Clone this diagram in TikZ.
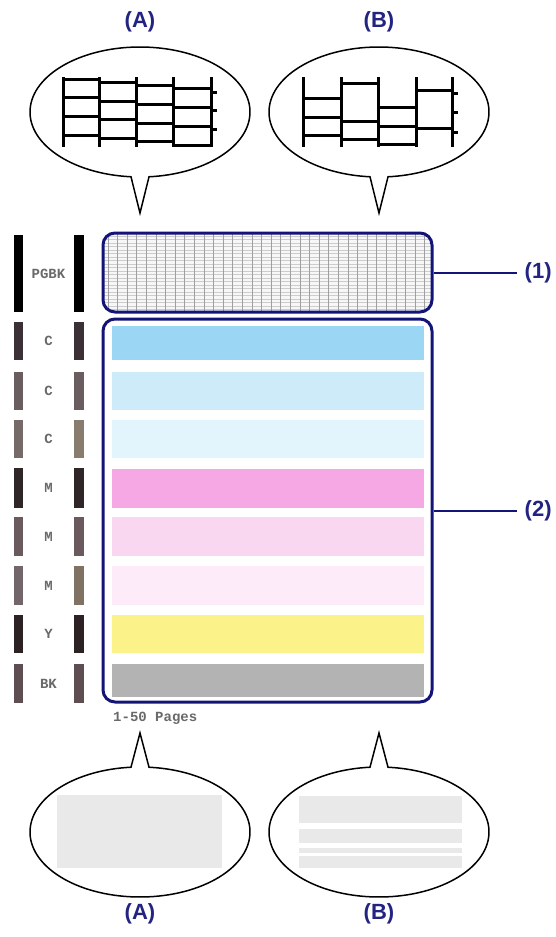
\documentclass[tikz,border=0pt]{standalone}
\usepackage{fontspec}
\setmainfont{Liberation Sans}
\newfontfamily\inkfont{Liberation Mono}
\usetikzlibrary{shapes.geometric,calc,positioning}
\definecolor{navy}{RGB}{20,20,120}
\definecolor{labelblue}{RGB}{35,35,130}
\definecolor{inkgray}{RGB}{105,105,105}
% band colours
\definecolor{cyanA}{RGB}{155,214,244}
\definecolor{cyanB}{RGB}{205,235,249}
\definecolor{cyanC}{RGB}{226,244,252}
\definecolor{magA}{RGB}{246,168,228}
\definecolor{magB}{RGB}{250,215,241}
\definecolor{magC}{RGB}{253,235,249}
\definecolor{yelA}{RGB}{251,242,138}
\definecolor{grayA}{RGB}{179,179,179}
% nozzle bar colours
\definecolor{barA}{RGB}{59,48,53}
\definecolor{barB}{RGB}{106,93,96}
\definecolor{barC}{RGB}{117,106,104}
\definecolor{barCr}{RGB}{135,124,110}
\definecolor{barD}{RGB}{47,38,40}
\definecolor{barE}{RGB}{106,90,94}
\definecolor{barF}{RGB}{114,102,106}
\definecolor{barFr}{RGB}{128,114,98}
\definecolor{barG}{RGB}{44,34,36}
\definecolor{barH}{RGB}{94,78,82}
\tikzstyle{letter} = [font=\fontsize{22}{22}\selectfont\bfseries, text=labelblue, inner sep=2pt]
\tikzstyle{inklabel} = [font=\inkfont\bfseries\fontsize{14}{14}\selectfont, text=inkgray, inner sep=1pt]
\tikzstyle{bubble} = [draw=black, line width=1.5pt, fill=white, line join=miter]
\tikzstyle{stroke} = [black, line width=3pt]
\tikzstyle{patternbox} = [rectangle, rounded corners=12pt, draw=navy, line width=3pt, minimum width=329pt, inner sep=0pt]
\tikzstyle{connector} = [navy, line width=2pt, shorten >=6pt]

\begin{document}
\begin{tikzpicture}[x=1pt,y=-1pt]
\useasboundingbox (0,0) rectangle (556,937);

% check grid of the PGBK pattern
\begin{scope}
\clip[rounded corners=12pt] (103,233) rectangle (432,312);
\fill[gray!6] (103,233) rectangle (432,312);
\foreach \y in {236,239.5,...,310} \draw[gray!40, line width=0.6pt] (103,\y) -- (432,\y);
\foreach \x in {108,117.6,...,430} \draw[gray!75, line width=0.8pt] (\x,233) -- (\x,312);
\end{scope}

% colour bands
\foreach \top/\bot/\col in {326/360/cyanA, 372/410/cyanB, 420/458/cyanC, 469/508/magA,
  517/556/magB, 566/605/magC, 615/653/yelA, 664/697/grayA}
  \fill[fill=\col] (112,\top) rectangle (424,\bot);

\node (box1) [patternbox, minimum height=79pt] at (267.5,272.5) {};
\node (box2) [patternbox, minimum height=383pt] at (267.5,510.5) {};

% nozzle bars and ink names
\foreach \top/\bot/\lcol/\rcol/\txt [count=\i] in {235/312/black/black/PGBK,
  322/360/barA/barA/C, 372/410/barB/barB/C, 420/458/barC/barCr/C,
  468/508/barD/barD/M, 517/556/barE/barE/M, 566/605/barF/barFr/M,
  615/653/barG/barG/Y, 664/703/barH/barH/BK}
{
  \fill[fill=\lcol] (14,\top) rectangle (23,\bot);
  \fill[fill=\rcol] (74,\top) rectangle (84,\bot);
  \node (ink\i) [inklabel] at (48.5,{(\top+\bot)/2}) {\txt};
}
\node (pages) [inklabel, anchor=west] at (112,718) {1-50 Pages};

% labels (1) and (2)
\node (lbl1) [letter, right=89pt of box1] {(1)};
\node (lbl2) [letter, right=89pt of box2] {(2)};
\draw [connector] (box1.east) -- (lbl1.west);
\draw [connector] (box2.east) -- (lbl2.west);

% top bubbles
\draw [bubble] (140,112) ++(94.7:110 and 65) arc[start angle=94.7, end angle=445.3, x radius=110, y radius=65] -- (140,213) -- cycle;
\draw [bubble] (379,112) ++(94.7:110 and 65) arc[start angle=94.7, end angle=445.3, x radius=110, y radius=65] -- (379,213) -- cycle;
\node (topA) [letter] at (140,22) {(A)};
\node (topB) [letter] at (379,22) {(B)};

% pattern (A): evenly stepped lines
\foreach \x in {63,99,136,173,211} \draw [stroke] (\x,77) -- (\x,147);
\foreach \c in {0,...,3}
  \foreach \k in {0,...,3}
    \draw [stroke] ({63+37*\c},{79+3.3*\c+18.7*\k}) -- ({100+37*\c},{79+3.3*\c+18.7*\k});
\foreach \k in {0,...,2} \draw [stroke] (211,{92.2+18.7*\k}) -- (217,{92.2+18.7*\k});

% pattern (B): uneven lines
\foreach \x in {303,341,378,416,452} \draw [stroke] (\x,77) -- (\x,147);
\foreach \xa/\xb/\y in {303/341/98, 303/341/117, 303/341/135, 341/378/83, 341/378/121, 341/378/139,
  378/416/107, 378/416/126, 378/416/144, 416/452/90, 416/452/128, 452/458/93, 452/458/112, 452/458/132}
  \draw [stroke] (\xa,\y) -- (\xb,\y);

% bottom bubbles
\draw [bubble] (140,832) ++(274.7:110 and 65) arc[start angle=274.7, end angle=625.3, x radius=110, y radius=65] -- (140,733) -- cycle;
\draw [bubble] (379,832) ++(274.7:110 and 65) arc[start angle=274.7, end angle=625.3, x radius=110, y radius=65] -- (379,733) -- cycle;
\fill[gray!17] (57,795) rectangle (222,868);
\foreach \top/\bot in {796/823, 829/843, 848/853, 856/868}
  \fill[gray!17] (299,\top) rectangle (462,\bot);
\node (botA) [letter] at (140,914) {(A)};
\node (botB) [letter] at (379,914) {(B)};

\end{tikzpicture}
\end{document}
